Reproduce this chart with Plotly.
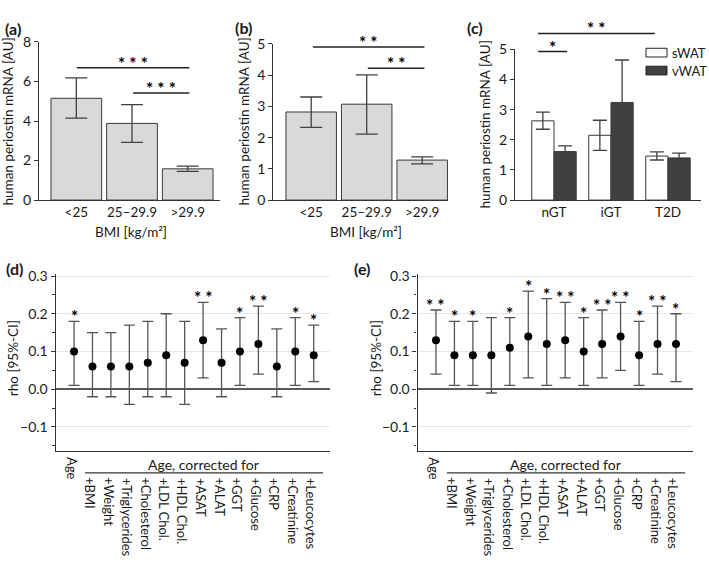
import plotly.graph_objects as go

W, H = 709, 564
FONT = "Lato"
INK = "#333333"
TXT = "#1a1a1a"

# ---------------- data ----------------
bmi_cats = ["<25", "25–29.9", ">29.9"]
a_mean = [5.15, 3.88, 1.58]
a_lo = [4.15, 2.92, 1.45]
a_hi = [6.18, 4.83, 1.72]
a_sig = [(0.01, 2.03, 6.70, "***"), (1.02, 2.03, 5.42, "***")]

b_mean = [2.82, 3.07, 1.28]
b_lo = [2.33, 2.11, 1.16]
b_hi = [3.30, 4.01, 1.38]
b_sig = [(0.03, 2.04, 4.90, "**"), (1.02, 2.04, 4.22, "**")]

c_cats = ["nGT", "iGT", "T2D"]
c_swat = [2.63, 2.15, 1.46]
c_swat_lo = [2.35, 1.65, 1.33]
c_swat_hi = [2.92, 2.65, 1.60]
c_vwat = [1.61, 3.24, 1.40]
c_vwat_lo = [1.41, 1.81, 1.25]
c_vwat_hi = [1.80, 4.65, 1.56]
c_sig = [(-0.28, 1.77, 5.53, "**"), (-0.28, 0.23, 4.93, "*")]

corr_labels = ["+BMI", "+Weight", "+Triglycerides", "+Cholesterol", "+LDL Chol.",
               "+HDL Chol.", "+ASAT", "+ALAT", "+GGT", "+Glucose", "+CRP",
               "+Creatinine", "+Leucocytes"]
d_rho = [0.10, 0.06, 0.06, 0.06, 0.07, 0.09, 0.07, 0.13, 0.07, 0.10, 0.12, 0.06, 0.10, 0.09]
d_lo = [0.01, -0.02, -0.02, -0.04, -0.02, -0.02, -0.04, 0.03, -0.02, 0.01, 0.04, -0.02, 0.01, 0.02]
d_hi = [0.18, 0.15, 0.15, 0.17, 0.18, 0.20, 0.18, 0.23, 0.16, 0.19, 0.22, 0.16, 0.19, 0.17]
d_sig = ["*", "", "", "", "", "", "", "**", "", "*", "**", "", "*", "*"]

e_rho = [0.13, 0.09, 0.09, 0.09, 0.11, 0.14, 0.12, 0.13, 0.10, 0.12, 0.14, 0.09, 0.12, 0.12]
e_lo = [0.04, 0.01, 0.01, -0.01, 0.01, 0.03, 0.01, 0.03, 0.01, 0.03, 0.05, 0.01, 0.04, 0.02]
e_hi = [0.21, 0.18, 0.18, 0.19, 0.19, 0.26, 0.24, 0.23, 0.19, 0.21, 0.23, 0.18, 0.22, 0.20]
e_sig = ["**", "*", "*", "", "*", "*", "*", "**", "*", "**", "**", "*", "**", "*"]


def px(p):
    return p / W


def py(p):
    return 1 - p / H


def err(mean, lo, hi):
    return dict(type="data", symmetric=False,
                array=[h - m for m, h in zip(mean, hi)],
                arrayminus=[m - l for m, l in zip(mean, lo)])


def stars(s):
    return "<b>" + " ".join(s) + "</b>"


STAR_FONT = dict(size=17, color="black", family=FONT)

fig = go.Figure()

# ---------------- (a) ----------------
fig.add_trace(go.Bar(x=[0, 1, 2], y=a_mean, width=0.91,
                     marker=dict(color="#d9d9d9", line=dict(color="#3a3a3a", width=1)),
                     error_y=dict(**err(a_mean, a_lo, a_hi), color="#404040", thickness=1.3, width=11),
                     xaxis="x", yaxis="y", showlegend=False))
# ---------------- (b) ----------------
fig.add_trace(go.Bar(x=[0, 1, 2], y=b_mean, width=0.91,
                     marker=dict(color="#d9d9d9", line=dict(color="#3a3a3a", width=1)),
                     error_y=dict(**err(b_mean, b_lo, b_hi), color="#404040", thickness=1.3, width=11),
                     xaxis="x2", yaxis="y2", showlegend=False))
# ---------------- (c) ----------------
fig.add_trace(go.Bar(x=[0, 1, 2], y=c_swat, width=0.39, offset=-0.39, name="sWAT",
                     marker=dict(color="white", line=dict(color="#3a3a3a", width=1)),
                     error_y=dict(**err(c_swat, c_swat_lo, c_swat_hi), color="#404040", thickness=1.3, width=7),
                     xaxis="x3", yaxis="y3", showlegend=False))
fig.add_trace(go.Bar(x=[0, 1, 2], y=c_vwat, width=0.39, offset=0, name="vWAT",
                     marker=dict(color="#404040", line=dict(color="#3a3a3a", width=1)),
                     error_y=dict(**err(c_vwat, c_vwat_lo, c_vwat_hi), color="#404040", thickness=1.3, width=7),
                     xaxis="x3", yaxis="y3", showlegend=False))

# ---------------- (d) / (e) ----------------
pos = list(range(1, 15))
annotations = []
for rho, lo, hi, sig, xa, ya in [(d_rho, d_lo, d_hi, d_sig, "x4", "y4"),
                                 (e_rho, e_lo, e_hi, e_sig, "x5", "y5")]:
    fig.add_trace(go.Scatter(x=pos, y=rho, mode="markers",
                             marker=dict(color="black", size=8),
                             error_y=dict(**err(rho, lo, hi), color="#555555", thickness=1.3, width=5.5),
                             xaxis=xa, yaxis=ya, showlegend=False))
    for xi, yi, s in zip(pos, hi, sig):
        if s:
            annotations.append(dict(text=stars(s), xref=xa, yref=ya, x=xi, y=yi, xanchor="center",
                                    yanchor="bottom", yshift=-8, showarrow=False, font=STAR_FONT))

# ---------------- axes ----------------
common_line = dict(showline=True, linecolor=INK, linewidth=1.2, showgrid=False, zeroline=False)
bar_y = dict(ticks="outside", ticklen=4, tickcolor=INK, tickfont=dict(size=14), **common_line)
bar_x = dict(tickmode="array", tickvals=[0, 1, 2], ticks="", tickfont=dict(size=13.5), **common_line)

layout_axes = dict(
    xaxis=dict(domain=[px(39), px(220)], range=[-0.67, 2.58], anchor="y", ticktext=bmi_cats, **bar_x),
    yaxis=dict(domain=[py(197), py(34)], range=[0, 8], dtick=2, anchor="x", **bar_y),
    xaxis2=dict(domain=[px(273.3), px(448)], range=[-0.683, 2.465], anchor="y2", ticktext=bmi_cats, **bar_x),
    yaxis2=dict(domain=[py(197), py(36)], range=[0, 5], dtick=1, anchor="x2", **bar_y),
    xaxis3=dict(domain=[px(515), px(700.7)], range=[-0.684, 2.574], anchor="y3", ticktext=c_cats, **bar_x),
    yaxis3=dict(domain=[py(197), py(41.7)], range=[0, 5], dtick=1, anchor="x3", **bar_y),
)
rho_y = dict(range=[-0.165, 0.305], tick0=0, dtick=0.1, tickformat=".1f", ticks="outside", ticklen=4,
             tickcolor=INK, tickfont=dict(size=14), showline=True, linecolor=INK, linewidth=1.2,
             showgrid=True, gridcolor="#e6e6e6", gridwidth=1,
             zeroline=True, zerolinecolor="#5a5a5a", zerolinewidth=1.5,
             minor=dict(ticks="outside", ticklen=2.5, tick0=0, dtick=0.05, tickcolor=INK, showgrid=False))
rho_x = dict(range=[0, 14.9], showticklabels=False, ticks="", **common_line)
layout_axes.update(
    xaxis4=dict(domain=[px(55.6), px(330.3)], anchor="y4", **rho_x),
    yaxis4=dict(domain=[py(456.2), py(273.4)], anchor="x4", **rho_y),
    xaxis5=dict(domain=[px(417.5), px(692.6)], anchor="y5", **rho_x),
    yaxis5=dict(domain=[py(456.2), py(273.4)], anchor="x5", **rho_y),
)

shapes = []

# significance brackets (a)-(c)  (domain refs so that lines above the axis top stay visible)
for sig, xa, ya, ymax in [(a_sig, "x", "y", 8), (b_sig, "x2", "y2", 5), (c_sig, "x3", "y3", 5)]:
    for x0, x1, yv, txt in sig:
        shapes.append(dict(type="line", xref=xa, yref=ya + " domain", x0=x0, x1=x1,
                           y0=yv / ymax, y1=yv / ymax, line=dict(color="#222", width=1.5)))
        annotations.append(dict(text=stars(txt), xref=xa, yref=ya + " domain", x=(x0 + x1) / 2,
                                y=yv / ymax, xanchor="center", yanchor="bottom", yshift=-8,
                                showarrow=False, font=STAR_FONT))

# legend (c)
for name, fill, yc in [("sWAT", "white", 45), ("vWAT", "#404040", 63.5)]:
    shapes.append(dict(type="rect", xref="paper", yref="paper", x0=px(646), x1=px(667),
                       y0=py(yc + 4.5), y1=py(yc - 4.5), fillcolor=fill,
                       line=dict(color="#222", width=1)))
    annotations.append(dict(text=name, xref="paper", yref="paper", x=px(670), y=py(yc),
                            xanchor="left", yanchor="middle", showarrow=False, font=dict(size=13)))

# panel letters
for txt, x, y in [("(a)", 3, 20), ("(b)", 233, 19), ("(c)", 465, 19), ("(d)", 4, 268), ("(e)", 352, 268)]:
    annotations.append(dict(text="<b>%s</b>" % txt, xref="paper", yref="paper", x=px(x), y=py(y),
                            xanchor="left", yanchor="middle", showarrow=False, font=dict(size=16)))

# y-axis titles
for txt, x, y in [("human periostin mRNA [AU]", 8, 116), ("human periostin mRNA [AU]", 244, 116),
                  ("human periostin mRNA [AU]", 485, 119), ("rho [95%-CI]", 13, 360),
                  ("rho [95%-CI]", 376, 360)]:
    annotations.append(dict(text=txt, xref="paper", yref="paper", x=px(x), y=py(y), textangle=-90,
                            xanchor="center", yanchor="middle", showarrow=False, font=dict(size=13.5)))

# x-axis titles (a),(b)
for x in [131, 366]:
    annotations.append(dict(text="BMI [kg/m²]", xref="paper", yref="paper", x=px(x), y=py(230),
                            xanchor="center", yanchor="middle", showarrow=False, font=dict(size=13.5)))

# category labels (d),(e)
for xa in ["x4", "x5"]:
    annotations.append(dict(text="Age", xref=xa, yref="paper", x=1, y=py(460), textangle=90,
                            xanchor="center", yanchor="top", xshift=-2, showarrow=False, font=dict(size=13)))
    annotations.append(dict(text="Age, corrected for", xref=xa, yref="paper", x=8, y=py(470),
                            xanchor="center", yanchor="middle", showarrow=False, font=dict(size=14)))
    shapes.append(dict(type="line", xref=xa, yref="paper", x0=1.6, x1=14.5, y0=py(478.3), y1=py(478.3),
                       line=dict(color=INK, width=1.2)))
    for i, lab in enumerate(corr_labels):
        annotations.append(dict(text=lab, xref=xa, yref="paper", x=i + 2, y=py(481), textangle=90,
                                xanchor="center", yanchor="top", xshift=-2, showarrow=False,
                                font=dict(size=13)))

fig.update_layout(
    width=W, height=H, margin=dict(l=0, r=0, t=0, b=0),
    paper_bgcolor="white", plot_bgcolor="rgba(0,0,0,0)",
    font=dict(family=FONT, size=13.5, color=TXT),
    showlegend=False, barmode="overlay",
    shapes=shapes, annotations=annotations,
    **layout_axes,
)

fig.write_html("out.html", config={"displayModeBar": False},
               post_script="document.body.style.margin='0';document.body.style.padding='0';"
                           "document.body.style.overflow='hidden';")
